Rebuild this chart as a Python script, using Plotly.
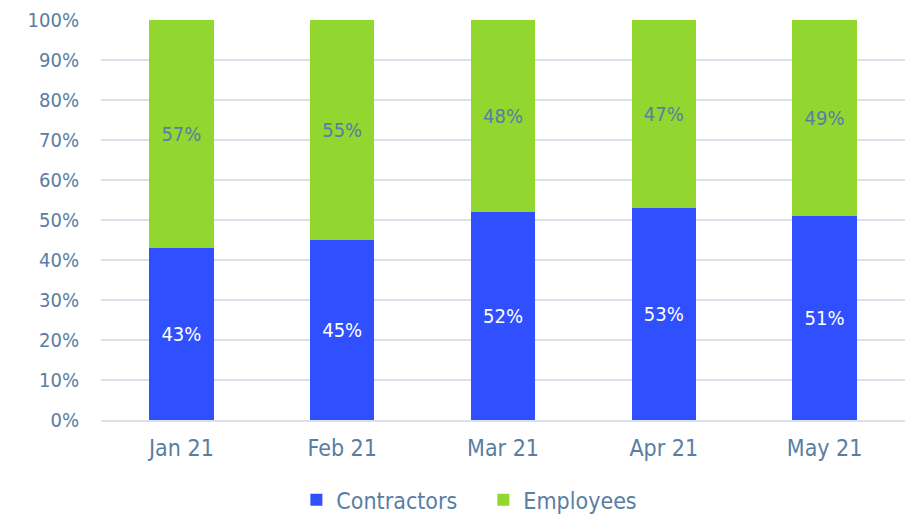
import plotly.graph_objects as go

months = ["Jan 21", "Feb 21", "Mar 21", "Apr 21", "May 21"]
contractors = [43, 45, 52, 53, 51]
employees = [57, 55, 48, 47, 49]

TEXT = "#5A7DA3"
FONT = "DejaVu Sans Condensed"
FS = 20
FS_BIG = 23

fig = go.Figure()
fig.add_trace(go.Bar(
    name="Contractors", x=months, y=contractors,
    marker=dict(color="#3050FF", line=dict(width=0)),
    text=[f"{v}%" for v in contractors], textposition="inside",
    insidetextanchor="middle",
    textfont=dict(color="white", size=FS, family=FONT),
))
fig.add_trace(go.Bar(
    name="Employees", x=months, y=employees,
    marker=dict(color="#92D630", line=dict(width=0)),
    text=[f"{v}%" for v in employees], textposition="inside",
    insidetextanchor="middle",
    textfont=dict(color=TEXT, size=FS, family=FONT),
))

fig.update_layout(
    barmode="stack",
    bargap=0.6,
    width=908, height=507,
    margin=dict(l=93, r=10.5, t=12, b=95, autoexpand=False),
    paper_bgcolor="white", plot_bgcolor="white",
    font=dict(family=FONT, color=TEXT, size=FS),
    showlegend=True,
    legend=dict(orientation="h", x=0.243, xanchor="left",
                yref="container", y=0.03, yanchor="middle",
                font=dict(size=FS_BIG, color=TEXT), itemwidth=30,
                entrywidth=142, entrywidthmode="pixels",
                traceorder="normal"),
    uniformtext=dict(mode=False),
)
fig.update_yaxes(range=[0, 100], dtick=10, ticksuffix="%", showgrid=True,
                 gridcolor="#D9E1EA", gridwidth=1.5, zeroline=False,
                 ticks="outside", ticklen=17, tickcolor="rgba(0,0,0,0)",
                 tickfont=dict(size=FS, color=TEXT), fixedrange=True,
                 automargin=False)
fig.update_xaxes(showline=True, linecolor="#D9E1EA", linewidth=1.5,
                 ticks="outside", ticklen=7, tickcolor="rgba(0,0,0,0)",
                 tickfont=dict(size=FS_BIG, color=TEXT), automargin=False)

fig.write_html("out.html")
